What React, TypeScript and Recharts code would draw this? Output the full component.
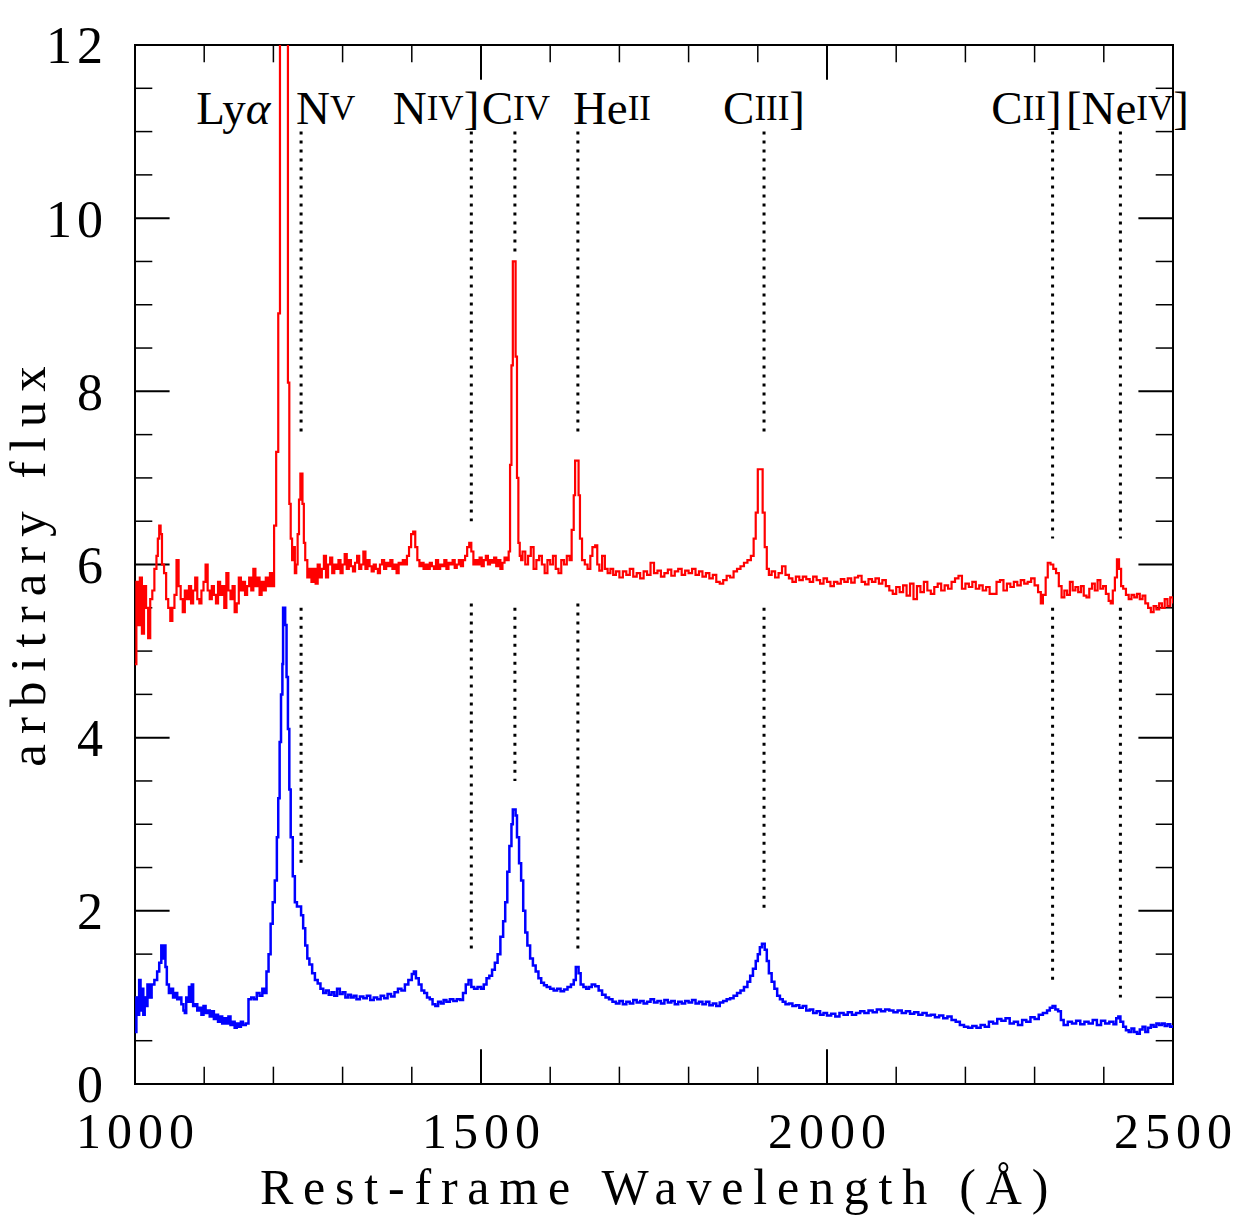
import { ComposedChart, Line, XAxis, YAxis, ReferenceLine, ReferenceArea, ReferenceDot } from 'recharts';

// narrow-line spectrum (upper, red): [wavelength, flux]
const redSpectrum: [number, number][] = [
  [1000, 4.85], [1002, 5.8], [1005, 5.3], [1007, 5.85], [1010, 5.2], [1013, 5.75], [1016, 5.5], [1019, 5.15],
  [1022, 5.6], [1025, 5.7], [1028, 5.95], [1031, 6.1], [1033, 6.3], [1035, 6.45], [1037, 6.35], [1039, 6.0],
  [1042, 5.9], [1045, 5.6], [1048, 5.5], [1051, 5.35], [1054, 5.5], [1057, 5.65], [1060, 6.05], [1063, 5.75],
  [1066, 5.6], [1069, 5.45], [1072, 5.7], [1075, 5.6], [1078, 5.75], [1081, 5.55], [1084, 5.7], [1087, 5.85],
  [1090, 5.6], [1093, 5.55], [1096, 5.7], [1099, 5.8], [1102, 6.0], [1105, 5.7], [1108, 5.6], [1111, 5.75],
  [1114, 5.65], [1117, 5.55], [1120, 5.8], [1123, 5.65], [1126, 5.75], [1129, 5.5], [1132, 5.9], [1135, 5.7],
  [1138, 5.6], [1141, 5.75], [1144, 5.45], [1147, 5.55], [1150, 5.85], [1153, 5.7], [1156, 5.8], [1159, 5.65],
  [1162, 5.75], [1165, 5.85], [1168, 5.7], [1171, 5.95], [1174, 5.75], [1177, 5.85], [1180, 5.65], [1183, 5.8],
  [1186, 5.7], [1189, 5.85], [1192, 5.75], [1195, 5.9], [1198, 5.75], [1201, 6.45], [1204, 7.3], [1207, 8.9],
  [1209.5, 25], [1221, 8.1], [1223, 6.7], [1225, 6.3], [1227, 6.05], [1229, 6.2], [1231, 5.9], [1233, 6.0],
  [1235, 6.35], [1237, 6.75], [1239, 7.05], [1242, 6.7], [1244, 6.25], [1246, 6.05],
  [1249, 5.85], [1252, 5.95], [1255, 5.8], [1258, 5.95], [1261, 5.78], [1264, 6.0], [1267, 5.85], [1270, 5.95],
  [1273, 6.1], [1276, 5.85], [1279, 6.0], [1282, 6.08], [1285, 5.9], [1288, 6.0], [1291, 5.95], [1294, 6.05],
  [1297, 5.9], [1300, 6.0], [1303, 6.12], [1306, 5.95], [1309, 6.05], [1312, 5.98], [1315, 5.92], [1318, 6.02],
  [1321, 6.1], [1324, 5.95], [1327, 6.0], [1330, 6.15], [1333, 5.95], [1336, 6.05], [1339, 5.98], [1342, 5.92],
  [1345, 6.0], [1348, 5.95], [1351, 5.9], [1354, 6.0], [1357, 6.05], [1360, 5.95], [1363, 6.02], [1366, 5.98],
  [1369, 6.05], [1372, 5.95], [1375, 6.0], [1378, 5.9], [1381, 6.02], [1384, 6.0], [1387, 6.05], [1390, 6.0],
  [1393, 6.1], [1396, 6.2], [1399, 6.35], [1402, 6.38], [1405, 6.2], [1408, 6.05], [1411, 5.98], [1414, 6.02],
  [1417, 5.95], [1420, 6.0], [1423, 5.95], [1426, 6.02], [1429, 5.98], [1432, 5.95], [1435, 6.05], [1438, 5.95],
  [1441, 6.0], [1444, 5.98], [1447, 6.05], [1450, 5.95], [1453, 6.02], [1456, 6.0], [1459, 6.05], [1462, 5.96],
  [1465, 6.0], [1468, 6.05], [1471, 5.98], [1474, 6.05], [1477, 6.1], [1480, 6.2], [1483, 6.25], [1486, 6.15],
  [1489, 6.0], [1492, 6.05], [1495, 6.0], [1498, 6.08], [1501, 5.98], [1504, 6.05], [1507, 6.1], [1510, 6.0],
  [1513, 6.05], [1516, 6.02], [1519, 6.08], [1522, 5.98], [1525, 6.05], [1528, 5.95], [1531, 6.02], [1534, 6.08],
  [1537, 6.05], [1540, 6.15], [1542, 7.15], [1544, 8.3], [1546, 9.5], [1550, 8.4], [1552, 7.0], [1554, 6.25],
  [1556, 6.1], [1558, 6.05], [1560, 6.15], [1564, 6.0], [1568, 6.1], [1572, 6.2], [1576, 5.95], [1580, 6.05],
  [1584, 6.1], [1588, 6.0], [1592, 5.9], [1596, 6.05], [1600, 6.0], [1604, 6.1], [1608, 5.95], [1612, 5.9],
  [1616, 6.05], [1620, 6.0], [1624, 6.1], [1628, 6.05], [1631, 6.4], [1634, 6.8], [1636, 7.2], [1641, 6.8],
  [1643, 6.3], [1646, 6.05], [1650, 6.0], [1654, 5.95], [1658, 6.1], [1661, 6.2], [1665, 6.22], [1668, 6.0],
  [1671, 5.93], [1675, 6.1], [1679, 5.95], [1683, 5.9], [1687, 5.95], [1691, 5.88], [1695, 5.92], [1700, 5.85],
  [1705, 5.92], [1710, 5.88], [1715, 5.95], [1720, 5.86], [1725, 5.9], [1730, 5.84], [1735, 5.92], [1740, 5.88],
  [1745, 6.02], [1750, 5.9], [1755, 5.93], [1760, 5.86], [1765, 5.9], [1770, 5.94], [1775, 5.87], [1780, 5.92],
  [1785, 5.95], [1790, 5.88], [1795, 5.93], [1800, 5.9], [1805, 5.95], [1810, 5.88], [1815, 5.92], [1820, 5.86],
  [1825, 5.9], [1830, 5.84], [1835, 5.88], [1840, 5.8], [1845, 5.78], [1850, 5.82], [1855, 5.87], [1860, 5.85],
  [1865, 5.92], [1870, 5.95], [1875, 5.98], [1880, 6.02], [1885, 6.05], [1890, 6.1], [1894, 6.3], [1897, 6.6],
  [1900, 7.1], [1907, 6.6], [1910, 6.2], [1913, 5.95], [1916, 5.88], [1920, 5.92], [1925, 5.85], [1930, 5.9],
  [1935, 5.98], [1940, 5.88], [1945, 5.84], [1950, 5.8], [1955, 5.86], [1960, 5.82], [1965, 5.86], [1970, 5.83],
  [1975, 5.8], [1980, 5.86], [1985, 5.82], [1990, 5.78], [1995, 5.84], [2000, 5.8], [2005, 5.75], [2010, 5.8],
  [2015, 5.78], [2020, 5.83], [2025, 5.8], [2030, 5.84], [2035, 5.79], [2040, 5.85], [2045, 5.87], [2050, 5.8],
  [2055, 5.77], [2060, 5.83], [2065, 5.8], [2070, 5.84], [2075, 5.78], [2080, 5.82], [2085, 5.75], [2090, 5.7],
  [2095, 5.66], [2100, 5.74], [2105, 5.68], [2110, 5.76], [2115, 5.64], [2120, 5.78], [2125, 5.6], [2130, 5.75],
  [2135, 5.68], [2140, 5.8], [2145, 5.7], [2150, 5.66], [2155, 5.74], [2160, 5.78], [2165, 5.7], [2170, 5.76],
  [2175, 5.72], [2180, 5.8], [2185, 5.84], [2190, 5.87], [2195, 5.72], [2200, 5.78], [2205, 5.74], [2210, 5.8],
  [2215, 5.72], [2220, 5.76], [2225, 5.7], [2230, 5.74], [2235, 5.66], [2240, 5.66], [2245, 5.8], [2250, 5.82],
  [2255, 5.7], [2260, 5.78], [2265, 5.74], [2270, 5.8], [2275, 5.76], [2280, 5.82], [2285, 5.78], [2290, 5.8],
  [2295, 5.84], [2300, 5.76], [2305, 5.68], [2309, 5.55], [2312, 5.65], [2316, 5.85], [2319, 6.02], [2323, 6.0],
  [2327, 5.95], [2331, 5.9], [2335, 5.75], [2339, 5.62], [2343, 5.7], [2347, 5.65], [2351, 5.8], [2355, 5.7],
  [2359, 5.74], [2363, 5.68], [2367, 5.75], [2371, 5.64], [2375, 5.62], [2379, 5.72], [2383, 5.78], [2387, 5.7],
  [2391, 5.82], [2395, 5.72], [2399, 5.75], [2403, 5.66], [2407, 5.58], [2410, 5.55], [2413, 5.7], [2416, 5.85],
  [2419, 6.06], [2422, 5.95], [2425, 5.75], [2428, 5.72], [2432, 5.65], [2436, 5.6], [2440, 5.65], [2444, 5.62],
  [2448, 5.66], [2452, 5.6], [2456, 5.64], [2460, 5.55], [2464, 5.5], [2468, 5.45], [2472, 5.52], [2476, 5.48],
  [2480, 5.55], [2484, 5.5], [2488, 5.6], [2492, 5.52], [2496, 5.62], [2500, 5.55],
];

// broad-line spectrum (lower, blue): [wavelength, flux]
const blueSpectrum: [number, number][] = [
  [1000, 0.6], [1002, 1.0], [1004, 0.8], [1006, 1.2], [1008, 0.85], [1010, 1.1], [1012, 0.8], [1014, 1.0],
  [1016, 0.9], [1018, 1.15], [1021, 1.0], [1024, 1.15], [1028, 1.2], [1032, 1.3], [1035, 1.4], [1038, 1.6],
  [1040, 1.45], [1042, 1.6], [1044, 1.35], [1046, 1.15], [1049, 1.05], [1052, 1.1], [1055, 1.0], [1058, 1.05],
  [1061, 0.98], [1064, 1.0], [1067, 0.92], [1070, 0.85], [1072, 0.82], [1074, 1.0], [1076, 0.95], [1078, 1.12],
  [1080, 0.95], [1082, 1.15], [1084, 0.9], [1087, 0.92], [1090, 0.85], [1093, 0.88], [1096, 0.8], [1099, 0.9],
  [1102, 0.82], [1105, 0.85], [1108, 0.78], [1111, 0.84], [1114, 0.75], [1117, 0.8], [1120, 0.72], [1123, 0.78],
  [1126, 0.7], [1129, 0.76], [1132, 0.7], [1135, 0.78], [1138, 0.68], [1141, 0.72], [1144, 0.65], [1147, 0.7],
  [1150, 0.66], [1153, 0.72], [1156, 0.68], [1160, 0.7], [1164, 0.98], [1168, 1.0], [1172, 0.98], [1176, 1.05],
  [1180, 1.02], [1184, 1.1], [1187, 1.05], [1190, 1.3], [1193, 1.5], [1196, 1.85], [1199, 2.1], [1202, 2.35],
  [1205, 2.85], [1207, 3.3], [1209, 3.95], [1211, 4.5], [1213, 4.85], [1214, 5.5], [1217, 5.3], [1219, 4.7],
  [1221, 4.1], [1223, 3.4], [1225, 2.85], [1228, 2.4], [1231, 2.1], [1234, 2.05], [1237, 2.05], [1240, 1.95],
  [1243, 1.8], [1246, 1.6], [1249, 1.45], [1252, 1.38], [1256, 1.28], [1260, 1.2], [1264, 1.16], [1268, 1.1],
  [1272, 1.05], [1276, 1.08], [1280, 1.03], [1284, 1.06], [1288, 1.02], [1292, 1.1], [1296, 1.04], [1300, 1.06],
  [1304, 1.0], [1308, 1.03], [1312, 1.0], [1316, 1.02], [1320, 0.98], [1325, 1.01], [1330, 0.99], [1335, 1.02],
  [1340, 0.97], [1345, 1.0], [1350, 0.98], [1355, 1.02], [1360, 0.99], [1365, 1.04], [1370, 1.01], [1375, 1.06],
  [1380, 1.1], [1385, 1.08], [1390, 1.15], [1395, 1.2], [1400, 1.27], [1403, 1.3], [1406, 1.22], [1410, 1.15],
  [1414, 1.08], [1418, 1.05], [1422, 1.0], [1426, 0.98], [1430, 0.92], [1434, 0.9], [1438, 0.95], [1442, 0.93],
  [1446, 0.97], [1450, 0.95], [1455, 0.98], [1460, 0.96], [1465, 0.98], [1470, 0.97], [1474, 1.05], [1478, 1.15],
  [1482, 1.2], [1486, 1.12], [1490, 1.1], [1495, 1.12], [1500, 1.1], [1504, 1.15], [1508, 1.22], [1512, 1.25],
  [1516, 1.32], [1520, 1.4], [1524, 1.5], [1528, 1.7], [1532, 1.88], [1535, 2.1], [1538, 2.45], [1541, 2.75],
  [1544, 3.0], [1546, 3.17], [1550, 3.1], [1552, 2.85], [1555, 2.55], [1558, 2.35], [1561, 2.0], [1564, 1.75],
  [1567, 1.6], [1571, 1.45], [1575, 1.37], [1579, 1.3], [1583, 1.22], [1587, 1.17], [1591, 1.14], [1595, 1.12],
  [1600, 1.1], [1605, 1.08], [1610, 1.1], [1615, 1.07], [1620, 1.09], [1625, 1.12], [1630, 1.15], [1634, 1.2],
  [1637, 1.35], [1641, 1.28], [1644, 1.15], [1648, 1.12], [1652, 1.1], [1656, 1.12], [1660, 1.15], [1665, 1.13],
  [1670, 1.08], [1675, 1.03], [1680, 1.0], [1685, 0.98], [1690, 0.95], [1695, 0.93], [1700, 0.96], [1705, 0.92],
  [1710, 0.95], [1715, 0.93], [1720, 0.97], [1725, 0.94], [1730, 0.96], [1735, 0.93], [1740, 0.95], [1745, 0.98],
  [1750, 0.94], [1755, 0.96], [1760, 0.93], [1765, 0.97], [1770, 0.94], [1775, 0.96], [1780, 0.92], [1785, 0.95],
  [1790, 0.93], [1795, 0.96], [1800, 0.94], [1805, 0.97], [1810, 0.93], [1815, 0.95], [1820, 0.92], [1825, 0.95],
  [1830, 0.91], [1835, 0.93], [1840, 0.9], [1845, 0.94], [1850, 0.96], [1855, 0.98], [1860, 0.99], [1865, 1.02],
  [1870, 1.05], [1875, 1.08], [1880, 1.12], [1885, 1.18], [1889, 1.25], [1893, 1.33], [1897, 1.42], [1900, 1.5],
  [1903, 1.58], [1906, 1.62], [1910, 1.55], [1913, 1.42], [1916, 1.28], [1920, 1.18], [1924, 1.1], [1928, 1.02],
  [1932, 0.98], [1936, 0.95], [1940, 0.92], [1945, 0.93], [1950, 0.9], [1955, 0.91], [1960, 0.88], [1965, 0.9],
  [1970, 0.85], [1975, 0.86], [1980, 0.82], [1985, 0.84], [1990, 0.8], [1995, 0.82], [2000, 0.79], [2006, 0.81],
  [2012, 0.78], [2018, 0.82], [2024, 0.8], [2030, 0.83], [2036, 0.8], [2042, 0.82], [2048, 0.84], [2054, 0.82],
  [2060, 0.85], [2066, 0.83], [2072, 0.86], [2078, 0.84], [2084, 0.86], [2090, 0.85], [2096, 0.83], [2102, 0.85],
  [2108, 0.82], [2114, 0.84], [2120, 0.81], [2126, 0.83], [2132, 0.8], [2138, 0.82], [2144, 0.79], [2150, 0.8],
  [2156, 0.77], [2162, 0.79], [2168, 0.76], [2174, 0.78], [2180, 0.74], [2186, 0.72], [2192, 0.68], [2198, 0.66],
  [2204, 0.65], [2210, 0.67], [2216, 0.65], [2222, 0.68], [2228, 0.66], [2234, 0.72], [2240, 0.7], [2246, 0.75],
  [2252, 0.73], [2258, 0.76], [2264, 0.7], [2270, 0.72], [2276, 0.68], [2282, 0.74], [2288, 0.72], [2294, 0.77],
  [2300, 0.75], [2306, 0.8], [2312, 0.82], [2318, 0.85], [2322, 0.88], [2326, 0.9], [2330, 0.86], [2334, 0.84],
  [2338, 0.74], [2342, 0.68], [2348, 0.72], [2354, 0.7], [2360, 0.73], [2366, 0.69], [2372, 0.72], [2378, 0.7],
  [2384, 0.74], [2390, 0.68], [2396, 0.73], [2402, 0.7], [2408, 0.72], [2414, 0.69], [2418, 0.76], [2421, 0.78],
  [2424, 0.72], [2428, 0.66], [2432, 0.62], [2436, 0.6], [2440, 0.64], [2444, 0.6], [2448, 0.58], [2452, 0.63],
  [2456, 0.66], [2460, 0.6], [2464, 0.65], [2468, 0.68], [2472, 0.66], [2476, 0.7], [2480, 0.68], [2484, 0.7],
  [2488, 0.67], [2492, 0.69], [2496, 0.66], [2500, 0.68],
];

const xLabelTicks = [1000, 1500, 2000, 2500];
const xMinorTicks = [1100, 1200, 1300, 1400, 1600, 1700, 1800, 1900, 2100, 2200, 2300, 2400];
const yLabelTicks = [0, 2, 4, 6, 8, 10, 12];
const yMinorTicks = [0.5, 1, 1.5, 2.5, 3, 3.5, 4.5, 5, 5.5, 6.5, 7, 7.5, 8.5, 9, 9.5, 10.5, 11, 11.5];

// emission line markers: rest wavelength and the ends of the dotted segments
const markWaves = [1240, 1486, 1549, 1640, 1909, 2326, 2424];
const upperTop = [11, 11, 11, 11, 11, 11, 11];
const upperEnd = [7.5, 6.5, 9.55, 7.5, 7.5, 6.3, 6.3];
const lowerTop = [5.5, 5.55, 5.5, 5.55, 5.5, 5.5, 5.5];
const lowerEnd = [2.5, 1.5, 3.5, 1.5, 2.0, 1.2, 1.0];

// line labels: parts are [text, style] (0 normal, 1 small roman, 2 italic)
const labelWaves = [1216, 1240, 1486, 1549, 1640, 1909, 2326, 2424];
const labelParts: [string, number][][] = [
  [['Ly', 0], ['α', 2]],
  [['N', 0], ['V', 1]],
  [['N', 0], ['IV', 1], [']', 0]],
  [['C', 0], ['IV', 1]],
  [['He', 0], ['II', 1]],
  [['C', 0], ['III', 1], [']', 0]],
  [['C', 0], ['II', 1], [']', 0]],
  [['[Ne', 0], ['IV', 1], [']', 0]],
];
const labelAnchor = ['end', 'start', 'end', 'middle', 'start', 'middle', 'end', 'middle'];
const labelShift = [-14, -5, 8, 1, -5, 0, 9, 7];

const FONT = '"Liberation Serif", "DejaVu Serif", serif';
const MINOR = 0.2;
const MAJOR = 0.4;
const MINOR_X = 25;
const MAJOR_X = 50;

const redData = redSpectrum.map(([x, y]) => ({ x, y }));
const blueData = blueSpectrum.map(([x, y]) => ({ x, y }));

function LineLabel(i: number) {
  return (props: any) => (
    <text
      x={props.cx + labelShift[i]}
      y={props.cy}
      textAnchor={labelAnchor[i] as any}
      dominantBaseline="central"
      fontFamily={FONT}
      fontSize={47}
      fill="#000"
    >
      {labelParts[i].map(([t, s], k) => (
        <tspan key={k} fontSize={s === 1 ? 35 : 47} fontStyle={s === 2 ? 'italic' : 'normal'}>
          {t}
        </tspan>
      ))}
    </text>
  );
}

export default function App() {
  const xMajorInner = xLabelTicks.slice(1, -1);
  const yMajorInner = yLabelTicks.slice(1, -1);
  return (
    <div style={{ position: 'absolute', left: 0, top: 0, background: '#fff' }}>
      <ComposedChart width={1240} height={1225} margin={{ top: 45, right: 67, bottom: 41, left: 35 }}>
        <XAxis
          type="number"
          dataKey="x"
          domain={[1000, 2500]}
          ticks={xLabelTicks}
          allowDataOverflow
          axisLine={false}
          tickLine={false}
          tickMargin={22}
          height={100}
          tick={{ fontFamily: FONT, fontSize: 50, fill: '#000', letterSpacing: 6, dx: 3 }}
          label={{
            content: (p: any) => (
              <text
                x={p.viewBox.x + p.viewBox.width / 2 + 5}
                y={1204}
                textAnchor="middle"
                fontFamily={FONT}
                fontSize={50}
                letterSpacing={9.8}
                fill="#000"
              >
                Rest-frame Wavelength (Å)
              </text>
            ),
          }}
        />
        <YAxis
          type="number"
          domain={[0, 12]}
          ticks={yLabelTicks}
          allowDataOverflow
          axisLine={false}
          tickLine={false}
          tickMargin={21}
          width={100}
          tick={{ fontFamily: FONT, fontSize: 52, fill: '#000', letterSpacing: 5 }}
          label={{
            content: (p: any) => {
              const cy = p.viewBox.y + p.viewBox.height / 2 - 3;
              return (
                <text
                  x={45}
                  y={cy}
                  transform={`rotate(-90, 45, ${cy})`}
                  textAnchor="middle"
                  fontFamily={FONT}
                  fontSize={51}
                  letterSpacing={10}
                  fill="#000"
                >
                  arbitrary flux
                </text>
              );
            },
          }}
        />

        <ReferenceArea x1={1000} x2={2500} y1={0} y2={12} fill="none" stroke="#000" strokeWidth={2} />

        {xMinorTicks.map((t) => (
          <ReferenceLine key={'xb' + t} segment={[{ x: t, y: 0 }, { x: t, y: MINOR }]} stroke="#000" strokeWidth={1.5} />
        ))}
        {xMinorTicks.map((t) => (
          <ReferenceLine key={'xt' + t} segment={[{ x: t, y: 12 }, { x: t, y: 12 - MINOR }]} stroke="#000" strokeWidth={1.5} />
        ))}
        {xMajorInner.map((t) => (
          <ReferenceLine key={'xB' + t} segment={[{ x: t, y: 0 }, { x: t, y: MAJOR }]} stroke="#000" strokeWidth={2} />
        ))}
        {xMajorInner.map((t) => (
          <ReferenceLine key={'xT' + t} segment={[{ x: t, y: 12 }, { x: t, y: 12 - MAJOR }]} stroke="#000" strokeWidth={2} />
        ))}
        {yMinorTicks.map((t) => (
          <ReferenceLine key={'yl' + t} segment={[{ x: 1000, y: t }, { x: 1000 + MINOR_X, y: t }]} stroke="#000" strokeWidth={1.5} />
        ))}
        {yMinorTicks.map((t) => (
          <ReferenceLine key={'yr' + t} segment={[{ x: 2500, y: t }, { x: 2500 - MINOR_X, y: t }]} stroke="#000" strokeWidth={1.5} />
        ))}
        {yMajorInner.map((t) => (
          <ReferenceLine key={'yL' + t} segment={[{ x: 1000, y: t }, { x: 1000 + MAJOR_X, y: t }]} stroke="#000" strokeWidth={2} />
        ))}
        {yMajorInner.map((t) => (
          <ReferenceLine key={'yR' + t} segment={[{ x: 2500, y: t }, { x: 2500 - MAJOR_X, y: t }]} stroke="#000" strokeWidth={2} />
        ))}

        {markWaves.map((w, i) => (
          <ReferenceLine
            key={'up' + w}
            segment={[{ x: w, y: upperTop[i] }, { x: w, y: upperEnd[i] }]}
            stroke="#000"
            strokeWidth={3}
            strokeDasharray="3 6"
          />
        ))}
        {markWaves.map((w, i) => (
          <ReferenceLine
            key={'lo' + w}
            segment={[{ x: w, y: lowerTop[i] }, { x: w, y: lowerEnd[i] }]}
            stroke="#000"
            strokeWidth={3}
            strokeDasharray="3 6"
          />
        ))}

        <Line
          data={redData}
          dataKey="y"
          type="stepAfter"
          stroke="#ff0000"
          strokeWidth={2.2}
          dot={false}
          activeDot={false}
          isAnimationActive={false}
        />
        <Line
          data={blueData}
          dataKey="y"
          type="stepAfter"
          stroke="#0000ff"
          strokeWidth={2.5}
          dot={false}
          activeDot={false}
          isAnimationActive={false}
        />

        {labelWaves.map((w, i) => (
          <ReferenceDot key={'lab' + i} x={w} y={11.27} r={1} shape={LineLabel(i)} />
        ))}
      </ComposedChart>
    </div>
  );
}
